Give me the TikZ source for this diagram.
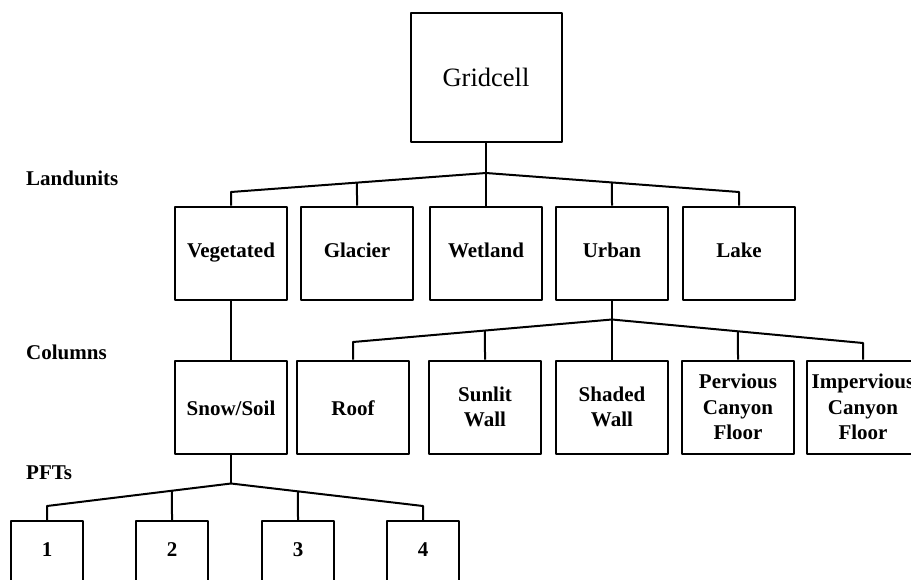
\documentclass[tikz,border=0pt]{standalone}
\usepackage{fontspec}
\setmainfont{Liberation Serif}

\begin{document}
\begin{tikzpicture}[
    x=1pt, y=-1pt,
    box/.style={draw, line width=2pt, inner sep=0pt, align=center,
      minimum width=112pt, minimum height=93pt,
      font=\fontsize{21}{25.5}\selectfont\bfseries},
    onebox/.style={box, text height=14pt, text depth=5pt},
    lowbox/.style={box, text height=18pt, text depth=2pt},
    pftbox/.style={onebox, minimum width=72pt, minimum height=62pt},
    level/.style={anchor=west, inner sep=0pt, font=\fontsize{21}{24}\selectfont\bfseries},
    link/.style={line width=2pt},
  line join=round]
  \useasboundingbox (0,0) rectangle (911,579);
  \clip (0,0) rectangle (911,579);

  % levels
  \node [level] (lland) at (26,178) {Landunits};
  \node [level] (lcol)  at (26,352) {Columns};
  \node [level] (lpft)  at (26,473) {PFTs};

  % gridcell
  \node [box, minimum width=151pt, minimum height=129pt,
    font=\fontsize{26.5}{30}\selectfont] (grid) at (486,77.5) {Gridcell};

  % landunits
  \node [onebox] (veg)  at (231,253) {Vegetated};
  \node [onebox] (glac) at (357,253) {Glacier};
  \node [onebox] (wet)  at (486,253) {Wetland};
  \node [onebox] (urb)  at (612,253) {Urban};
  \node [onebox] (lake) at (739,253) {Lake};

  % columns
  \node [lowbox] (snow) at (231,407) {Snow/Soil};
  \node [lowbox] (roof) at (353,407) {Roof};
  \node [box] (sun)  at (485,407) {Sunlit\\Wall};
  \node [box] (shad) at (612,407) {Shaded\\Wall};
  \node [box] (perv) at (738,407) {Pervious\\Canyon\\Floor};
  \node [box] (imp)  at (863,407) {Impervious\\Canyon\\Floor};

  % pfts
  \foreach \i/\x in {1/47,2/172,3/298,4/423}
    \node [pftbox] (p\i) at (\x,552) {\i};

  % gridcell -> landunits
  \coordinate (a1) at ([yshift=-30pt]grid.south);
  \coordinate (jveg) at (veg.north |- 0,192);
  \coordinate (jlake) at (lake.north |- 0,192);
  \draw [link] (grid) -- (wet);
  \draw [link] (veg) -- (jveg) -- (a1) -- (jlake) -- (lake);
  \foreach \n/\s in {glac/jveg, urb/jlake}
    \draw [link] (\n.north) -- (intersection of \n.north--\n.center and a1--\s);

  % landunits -> columns
  \draw [link] (veg) -- (snow);
  \coordinate (a2) at ([yshift=-19pt]urb.south);
  \coordinate (jroof) at (roof.north |- 0,342);
  \coordinate (jimp) at (imp.north |- 0,343);
  \draw [link] (urb) -- (shad);
  \draw [link] (roof) -- (jroof) -- (a2) -- (jimp) -- (imp);
  \foreach \n/\s in {sun/jroof, perv/jimp}
    \draw [link] (\n.north) -- (intersection of \n.north--\n.center and a2--\s);

  % columns -> pfts
  \coordinate (a3) at ([yshift=-29pt]snow.south);
  \coordinate (j1) at (p1.north |- 0,506);
  \coordinate (j4) at (p4.north |- 0,506);
  \draw [link] (snow) -- (a3);
  \draw [link] (p1) -- (j1) -- (a3) -- (j4) -- (p4);
  \foreach \n/\s in {p2/j1, p3/j4}
    \draw [link] (\n.north) -- (intersection of \n.north--\n.center and a3--\s);
\end{tikzpicture}
\end{document}
